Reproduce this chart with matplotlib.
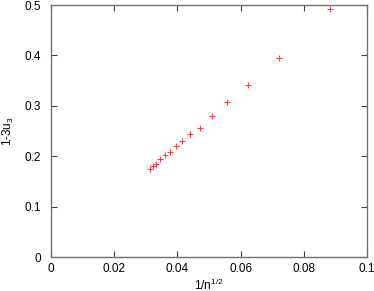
import matplotlib
matplotlib.use("Agg")
import matplotlib.pyplot as plt

plt.rcParams["font.family"] = ["Liberation Sans", "DejaVu Sans"]
plt.rcParams["mathtext.fontset"] = "custom"
plt.rcParams["mathtext.rm"] = "Liberation Sans"
plt.rcParams["mathtext.it"] = "Liberation Sans"

# 1/sqrt(n) vs 1-3u_3
x_vals = [0.0883, 0.0722, 0.0624, 0.0558, 0.0509, 0.0473, 0.0441, 0.0416,
          0.0395, 0.0377, 0.0361, 0.0346, 0.0333, 0.0322, 0.0312]
y_vals = [0.492, 0.395, 0.341, 0.307, 0.280, 0.256, 0.245, 0.230,
          0.220, 0.209, 0.202, 0.195, 0.185, 0.181, 0.174]

x_ticks = [0, 0.02, 0.04, 0.06, 0.08, 0.1]
x_tick_labels = ["0", "0.02", "0.04", "0.06", "0.08", "0.1"]
y_ticks = [0, 0.1, 0.2, 0.3, 0.4, 0.5]
y_tick_labels = ["0", "0.1", "0.2", "0.3", "0.4", "0.5"]

fig = plt.figure(figsize=(3.74, 2.91), dpi=100)
ax = fig.add_axes([51 / 374, 34 / 291, 316 / 374, 252 / 291])

ax.plot(x_vals, y_vals, linestyle="none", marker="+", color="#ff4040",
        markersize=5, markeredgewidth=0.8)

ax.set_xlim(0, 0.1)
ax.set_ylim(0, 0.5)
ax.set_xticks(x_ticks)
ax.set_xticklabels(x_tick_labels)
ax.set_yticks(y_ticks)
ax.set_yticklabels(y_tick_labels)

ax.tick_params(axis="both", direction="in", length=4, width=0.8, colors="#404040",
               labelsize=8.5, labelcolor="black", top=True, right=True)
ax.tick_params(axis="y", pad=7)
ax.tick_params(axis="x", pad=4)
for s in ax.spines.values():
    s.set_color("#707070")
    s.set_linewidth(1.0)

ax.set_xlabel("1/n$^{1/2}$", fontsize=8.5, labelpad=2)
ax.set_ylabel("1-3u$_3$", fontsize=8.5)
ax.yaxis.set_label_coords(-0.11, 0.5)

fig.savefig("out.png", dpi=100)
